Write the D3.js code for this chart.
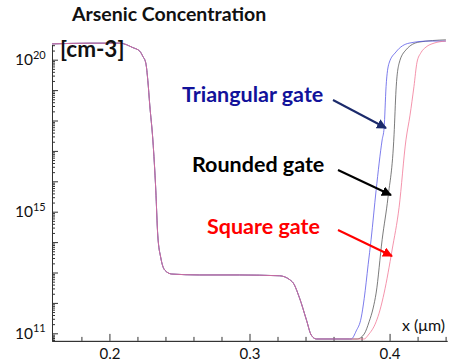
<!DOCTYPE html>
<html>
<head>
<meta charset="utf-8">
<script src="https://cdn.jsdelivr.net/npm/d3@7"></script>
<style>
  body { margin: 0; background: #fff; }
  svg { display: block; }
  text { font-family: Lato, "Open Sans", sans-serif; }
</style>
</head>
<body>
<div id="chart"></div>
<script>
// depth in um, arsenic concentration in cm-3
// shared part of the profile (all three gates lie on top of each other here)
const commonX = [0.159, 0.186, 0.2075, 0.2167, 0.2217, 0.2238, 0.226, 0.2274, 0.2288, 0.231, 0.2331, 0.2345,
  0.2367, 0.2395, 0.2445, 0.2644, 0.2929, 0.3214, 0.3306, 0.3356, 0.3406, 0.3441, 0.3477, 0.3712];
const commonC = [3.3e20, 3.5e20, 3.5e20, 2.5e20, 1.9e20, 1.3e20, 7.6e19, 2.1e19, 3.2e18, 2.3e17, 5.1e15, 1.7e14,
  3.0e13, 1.2e13, 8.9e12, 8.3e12, 8.3e12, 7.8e12, 4.9e12, 1.5e12, 2.8e11, 8.7e10, 6.5e10, 6.5e10];

// right-hand rise, one per gate shape
const triX = [0.3726, 0.3762, 0.3797, 0.3819, 0.3847, 0.3868, 0.3904, 0.3947, 0.3961, 0.3975, 0.3996, 0.4046, 0.4139, 0.4281, 0.4402];
const triC = [6.5e10, 1.2e11, 3.2e11, 1.4e12, 1.8e13, 1.2e14, 5.1e15, 2.3e17, 5.7e17, 1.3e19, 7.6e19, 1.8e20, 3.5e20, 4.1e20, 4.1e20];

const rndX = [0.3769, 0.3819, 0.3854, 0.3883, 0.3904, 0.3947, 0.3989, 0.4032, 0.4046, 0.4068, 0.4117, 0.421, 0.4402];
const rndC = [6.5e10, 9.5e10, 2.4e11, 6.8e11, 2.1e12, 1.2e14, 3.0e15, 3.4e17, 1.0e19, 7.6e19, 2.1e20, 3.8e20, 4.5e20];

const sqX = [0.3819, 0.3847, 0.3904, 0.3932, 0.3961, 0.4018, 0.4068, 0.4117, 0.4146, 0.4174, 0.4196, 0.4224, 0.426, 0.4317, 0.4402];
const sqC = [6.5e10, 8.7e10, 2.4e11, 5.9e11, 2.1e12, 5.5e13, 1.4e15, 2.3e17, 1.5e18, 1.3e19, 8.3e19, 1.7e20, 2.6e20, 3.5e20, 4.1e20];

const seriesNames = ['Triangular gate', 'Rounded gate', 'Square gate'];
const xTicks = [0.2, 0.3, 0.4];
const yLabelExp = [11, 15, 20];

const width = 452, height = 363;
const svg = d3.select('#chart').append('svg')
  .attr('width', width)
  .attr('height', height);

const x = d3.scaleLinear().domain([0.159, 0.441]).range([52, 447]);
const y = d3.scaleLog().domain([Math.pow(10, 10.75), Math.pow(10, 20.5)]).range([340.9, 44.5]);

// ticks (inward)
const decades = d3.range(11, 21).map(e => Math.pow(10, e));
const minorY = [];
for (let e = 10; e <= 20; e++) {
  for (let m = 2; m <= 9; m++) {
    const v = m * Math.pow(10, e);
    if (v > y.domain()[0] && v < y.domain()[1]) minorY.push(v);
  }
}
const minorX = d3.range(0.16, 0.441, 0.02).filter(v => !xTicks.some(t => Math.abs(t - v) < 1e-6));

function styleAxis(g) {
  g.selectAll('path, line').attr('stroke', '#333').attr('stroke-width', 1);
  g.selectAll('text').remove();
}

svg.append('g')
  .attr('transform', 'translate(52,0)')
  .call(d3.axisLeft(y).tickValues(minorY).tickSizeInner(-3).tickSizeOuter(0))
  .call(styleAxis);
svg.append('g')
  .attr('transform', 'translate(52,0)')
  .call(d3.axisLeft(y).tickValues(decades).tickSizeInner(-6).tickSizeOuter(0))
  .call(styleAxis);

svg.append('g')
  .attr('transform', 'translate(0,340.9)')
  .call(d3.axisBottom(x).tickValues(minorX).tickSizeInner(-4).tickSizeOuter(0))
  .call(styleAxis);
svg.append('g')
  .attr('transform', 'translate(0,340.9)')
  .call(d3.axisBottom(x).tickValues(xTicks).tickSizeInner(-7).tickSizeOuter(0))
  .call(g => g.selectAll('path, line').attr('stroke', '#333'))
  .call(g => g.selectAll('text')
    .attr('y', 7)
    .attr('font-size', 15)
    .attr('fill', '#111')
    .text(d => d.toFixed(1)));

// y labels 10^n
const yTop = y.range()[1];
svg.append('g').selectAll('text')
  .data(yLabelExp)
  .enter().append('text')
  .attr('x', 15)
  .attr('y', d => Math.max(y(Math.pow(10, d)), yTop + 4) + 5.5)
  .attr('font-size', 15.5)
  .attr('fill', '#111')
  .each(function(d) {
    const t = d3.select(this);
    t.append('tspan').text('10');
    t.append('tspan').attr('dy', -6.5).attr('font-size', 11).text(d);
  });

// curves
const series = [
  { name: seriesNames[1], xs: commonX.concat(rndX), cs: commonC.concat(rndC), color: '#5a5a5a', op: 0.8 },
  { name: seriesNames[0], xs: commonX.concat(triX), cs: commonC.concat(triC), color: '#5050e6', op: 0.75 },
  { name: seriesNames[2], xs: commonX.concat(sqX), cs: commonC.concat(sqC), color: '#f07090', op: 0.75 }
];

const line = d3.line()
  .x(d => x(d[0]))
  .y(d => y(d[1]))
  .curve(d3.curveMonotoneX);

svg.append('g').selectAll('path')
  .data(series)
  .enter().append('path')
  .attr('d', d => line(d.xs.map((v, i) => [v, d.cs[i]])))
  .attr('fill', 'none')
  .attr('stroke', d => d.color)
  .attr('stroke-width', 1)
  .attr('stroke-opacity', d => d.op);

// titles
svg.append('text')
  .attr('x', 72).attr('y', 21)
  .attr('font-size', 19.5).attr('font-weight', 'bold')
  .attr('fill', '#111')
  .text('Arsenic Concentration');

svg.append('text')
  .attr('x', 60).attr('y', 57)
  .attr('font-size', 22.5).attr('font-weight', 'bold')
  .attr('fill', '#111')
  .text('[cm-3]');

svg.append('text')
  .attr('x', 402).attr('y', 331)
  .attr('font-size', 16)
  .attr('fill', '#111')
  .text('x (\u03bcm)');

// annotations with arrows
const defs = svg.append('defs');
const notes = [
  { label: seriesNames[0], color: '#12129a', arrow: '#1b2a6b', tx: 182, ty: 102, from: [333, 100], to: [386, 128] },
  { label: seriesNames[1], color: '#000000', arrow: '#000000', tx: 192, ty: 172, from: [338, 170], to: [391, 195] },
  { label: seriesNames[2], color: '#ff0000', arrow: '#ff0000', tx: 207, ty: 234, from: [338, 230], to: [392, 256] }
];

notes.forEach((n, i) => {
  defs.append('marker')
    .attr('id', 'arr' + i)
    .attr('viewBox', '0 0 10 10')
    .attr('refX', 9).attr('refY', 5)
    .attr('markerWidth', 5).attr('markerHeight', 5)
    .attr('orient', 'auto')
    .append('path')
    .attr('d', 'M0,0L10,5L0,10z')
    .attr('fill', n.arrow);

  svg.append('text')
    .attr('x', n.tx).attr('y', n.ty)
    .attr('font-size', 21.5).attr('font-weight', 'bold')
    .attr('fill', n.color)
    .text(n.label);

  svg.append('line')
    .attr('x1', n.from[0]).attr('y1', n.from[1])
    .attr('x2', n.to[0]).attr('y2', n.to[1])
    .attr('stroke', n.arrow)
    .attr('stroke-width', 2)
    .attr('marker-end', 'url(#arr' + i + ')');
});
</script>
</body>
</html>
